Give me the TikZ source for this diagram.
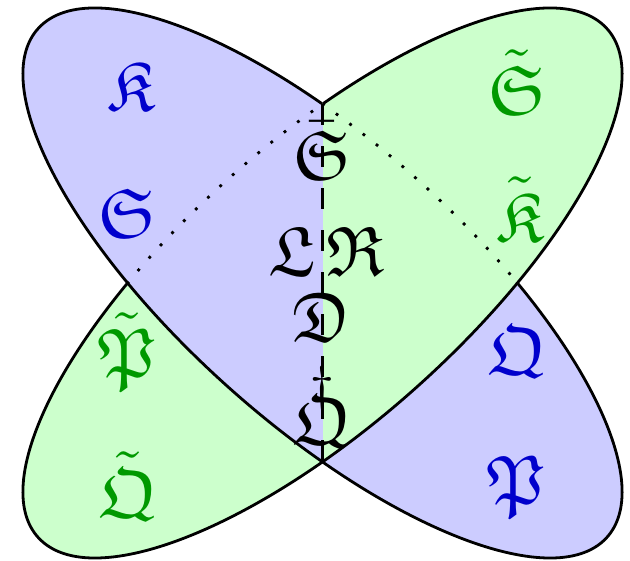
\documentclass[tikz,border=0pt]{standalone}
\usepackage{amsmath}
\usepackage{amssymb}
\usepackage{graphicx}
\definecolor{bfill}{RGB}{204,204,255}
\definecolor{gfill}{RGB}{204,255,204}
\definecolor{btext}{RGB}{0,0,204}
\definecolor{gtext}{RGB}{0,153,0}
\newcommand{\FrakLab}[1]{\scalebox{7}{$#1$}}
\newcommand{\QDag}{\scalebox{7}{\ooalign{$\mathfrak{Q}$\cr\hidewidth\smash{\raisebox{6.2pt}{$\scriptstyle\dagger$}}\hidewidth\cr}}}
\begin{document}
\begin{tikzpicture}[x=1pt,y=1pt,
  outl/.style={line width=2.8pt, black},
  dotl/.style={line width=2.8pt, black, dash pattern=on 2.8pt off 14pt},
  dashl/.style={line width=2.8pt, black, dash pattern=on 21pt off 21pt},
  lab/.style={inner sep=0pt, font=\normalsize},
  bl/.style={lab, text=btext},
  gr/.style={lab, text=gtext},
  bk/.style={lab, text=black},
  bellipse/.style={rotate=-45},
  gellipse/.style={rotate=45}]
\useasboundingbox (0,0) rectangle (630,561);
\begin{scope}[shift={(322.5,278)}, yscale=0.918]
  % fills
  \fill[bfill, bellipse] (0,0) ellipse [x radius=397.3, y radius=146.9];
  \fill[gfill, gellipse] (0,0) ellipse [x radius=397.3, y radius=146.9];
  \begin{scope}
    \clip[bellipse] (0,0) ellipse [x radius=397.3, y radius=146.9];
    \fill[bfill] (-420,-420) rectangle (0,420);
  \end{scope}
  % blue outline
  \begin{scope}
    \clip (-420,420) -- (0,420) -- (0,0) -- (420,0) -- (420,-420) -- (-420,-420) -- cycle;
    \draw[outl, bellipse] (0,0) ellipse [x radius=397.3, y radius=146.9];
  \end{scope}
  \begin{scope}
    \clip (0,0) rectangle (420,420);
    \draw[dotl, bellipse] (0,0) ellipse [x radius=397.3, y radius=146.9];
  \end{scope}
  % green outline
  \begin{scope}
    \clip (420,420) -- (0,420) -- (0,0) -- (-420,0) -- (-420,-420) -- (420,-420) -- cycle;
    \draw[outl, gellipse] (0,0) ellipse [x radius=397.3, y radius=146.9];
  \end{scope}
  \begin{scope}
    \clip (0,0) rectangle (-420,420);
    \draw[dotl, gellipse] (0,0) ellipse [x radius=397.3, y radius=146.9];
  \end{scope}
  \coordinate (top) at (0,194.8);
  \coordinate (bot) at (0,-194.8);
\end{scope}
\draw[dashl] (top) -- (bot);
% labels
\node[bl] (K) at (131,475) {\FrakLab{\mathfrak{K}}};
\node[bl] (S) at (128,348) {\FrakLab{\mathfrak{S}}};
\node[gr] (St) at (517,479) {\FrakLab{\tilde{\mathfrak{S}}}};
\node[gr] (Kt) at (520,352) {\FrakLab{\tilde{\mathfrak{K}}}};
\node[gr] (Pt) at (127,209) {\FrakLab{\tilde{\mathfrak{P}}}};
\node[gr] (Qt) at (128,75) {\FrakLab{\tilde{\mathfrak{Q}}}};
\node[bl] (Q) at (517,209) {\FrakLab{\mathfrak{Q}}};
\node[bl] (P) at (516,74) {\FrakLab{\mathfrak{P}}};
\node[bk] (Sb) at (322,410) {\FrakLab{\bar{\mathfrak{S}}}};
\node[bk] (L) at (292,310) {\FrakLab{\mathfrak{L}}};
\node[bk] (R) at (355,310) {\FrakLab{\mathfrak{R}}};
\node[bk] (D) at (322,244) {\FrakLab{\mathfrak{D}}};
\node[bk] (Qd) at (322,141) {\QDag};
\end{tikzpicture}
\end{document}
